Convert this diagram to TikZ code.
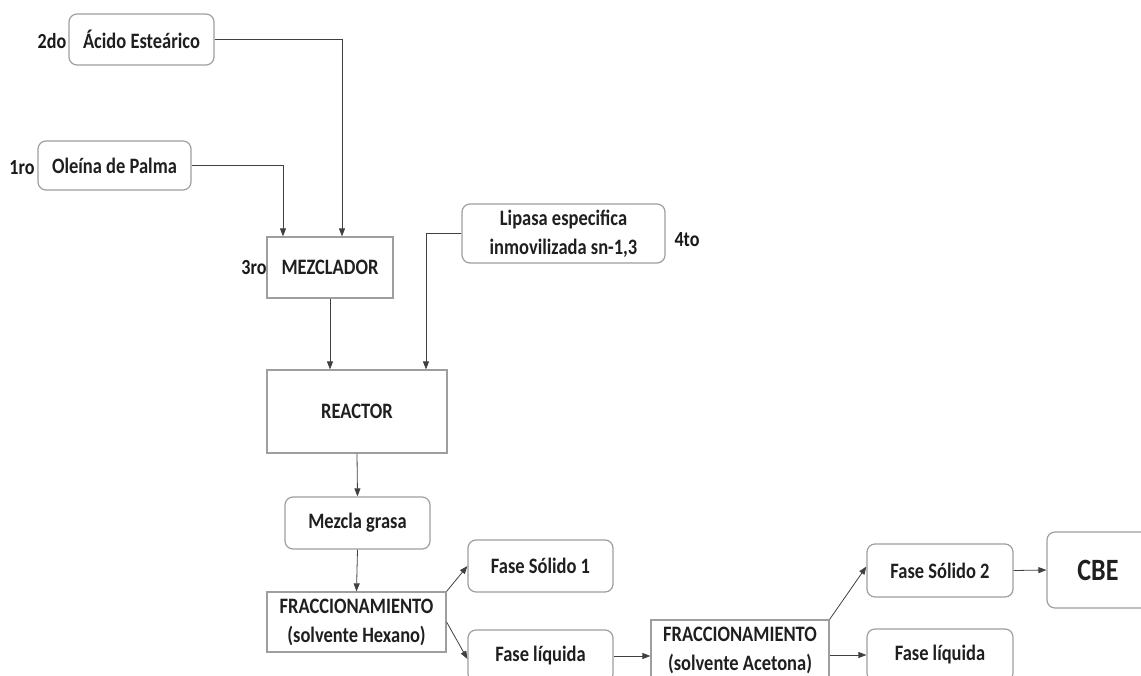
\documentclass[tikz,border=0pt]{standalone}
\usepackage{fontspec}
\setmainfont{Carlito}[FakeStretch=0.84]
\usetikzlibrary{arrows.meta}
\begin{document}
\begin{tikzpicture}[x=1pt,y=-1pt,
  box/.style={draw=black!38,line width=1.2pt,align=center,inner sep=0pt,
    font=\fontsize{22}{29}\selectfont\bfseries,text=black!88},
  rbox/.style={box,rounded corners=8pt},
  lbl/.style={inner sep=0pt,font=\fontsize{21.5}{24}\selectfont\bfseries,text=black!90},
  conn/.style={draw=black!75,line width=0.8pt,-{Triangle[length=8pt,width=6pt]}}]
\useasboundingbox (0,0) rectangle (1141,675);
\clip (0,0) rectangle (1141,675);
\node[rbox,minimum width=145pt,minimum height=51pt] (acido) at (141.5,39.5) {Ácido Esteárico};
\node[rbox,minimum width=153pt,minimum height=49pt] (oleina) at (114.5,165.5) {Oleína de Palma};
\node[box,minimum width=126pt,minimum height=61pt] (mezclador) at (330,267.5) {MEZCLADOR};
\node[rbox,minimum width=203pt,minimum height=59pt] (lipasa) at (563.5,233.5) {Lipasa especifica\\inmovilizada sn-1,3};
\node[box,minimum width=180pt,minimum height=83pt] (reactor) at (357,411.5) {REACTOR};
\node[rbox,minimum width=145pt,minimum height=52pt] (mezcla) at (357.5,523) {Mezcla grasa};
\node[box,minimum width=179pt,minimum height=60pt] (frac1) at (356.5,622) {FRACCIONAMIENTO\\(solvente Hexano)};
\node[rbox,minimum width=145pt,minimum height=52pt] (solido1) at (540.5,566) {Fase Sólido 1};
\node[rbox,minimum width=145pt,minimum height=52pt] (liquida1) at (540.5,656) {Fase líquida};
\node[box,minimum width=178pt,minimum height=60pt] (frac2) at (740,650) {FRACCIONAMIENTO\\(solvente Acetona)};
\node[rbox,minimum width=146pt,minimum height=53pt] (solido2) at (940,570.5) {Fase Sólido 2};
\node[rbox,minimum width=146pt,minimum height=52pt] (liquida2) at (940,655) {Fase líquida};
\node[rbox,minimum width=102pt,minimum height=76pt,font=\fontsize{31}{34}\selectfont\bfseries] (cbe) at (1098,570) {CBE};
\node[lbl] (l2) at (52,41) {2do};
\node[lbl] (l1) at (22,168) {1ro};
\node[lbl] (l3) at (254,268) {3ro};
\node[lbl] (l4) at (687,240) {4to};
\draw[conn] (acido.east) -| ([xshift=12pt]mezclador.north);
\draw[conn] (oleina.east) -| ([xshift=-47pt]mezclador.north);
\draw[conn] (lipasa.west) -| ([xshift=69pt]reactor.north);
\draw[conn] (mezclador.south) -- (mezclador.south |- reactor.north);
\draw[conn] (reactor.south) -- (mezcla.north);
\draw[conn] (mezcla.south) -- (frac1.north);
\draw[conn] (frac1.north east) -- (solido1.west);
\draw[conn] (frac1.east) -- ([yshift=-3pt]liquida1.west);
\draw[conn] (liquida1.east) -- (liquida1.east -| frac2.west);
\draw[conn] (frac2.north east) -- ([yshift=4pt]solido2.west);
\draw[conn] (solido2.east) -- (cbe.west);
\draw[conn] (liquida2.west -| frac2.east) -- (liquida2.west);
\end{tikzpicture}
\end{document}
